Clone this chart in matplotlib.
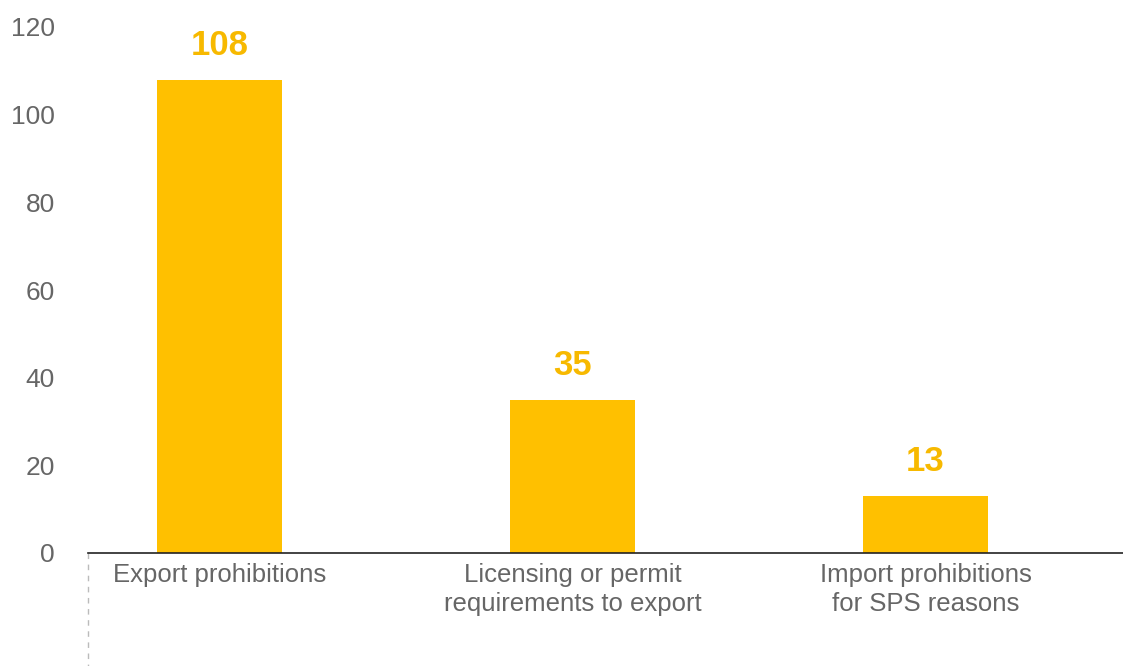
import matplotlib
matplotlib.use('Agg')
import matplotlib.pyplot as plt
from matplotlib import font_manager

categories = ['Export prohibitions',
              'Licensing or permit\nrequirements to export',
              'Import prohibitions\nfor SPS reasons']
counts = [108, 35, 13]
yticks = [0, 20, 40, 60, 80, 100, 120]

BAR = '#FFC000'
LABEL = '#F7B900'
GREY = '#666666'

names = {f.name for f in font_manager.fontManager.ttflist}
family = 'Liberation Sans Narrow' if 'Liberation Sans Narrow' in names else 'Liberation Sans'
plt.rcParams['font.family'] = [family, 'DejaVu Sans']

fig = plt.figure(figsize=(11.23, 6.66), dpi=100)
ax = fig.add_axes([88 / 1123, 113 / 666, 1 - 88 / 1123, 526 / 666])

x = list(range(len(categories)))
bars = ax.bar(x, counts, width=0.354, color=BAR, zorder=2)
for rect, v in zip(bars, counts):
    ax.annotate(str(v), (rect.get_x() + rect.get_width() / 2, v),
                xytext=(0, 13), textcoords='offset points',
                ha='center', va='bottom', fontsize=25, fontweight='bold',
                color=LABEL)

ax.set_xlim(-0.374, 2.56)
ax.set_ylim(0, 120)
ax.set_yticks(yticks)
ax.set_xticks(x)
ax.set_xticklabels(categories, fontsize=18.5, color=GREY, linespacing=1.3)
ax.tick_params(axis='y', length=0, pad=24, labelsize=19, labelcolor=GREY)
ax.tick_params(axis='x', length=0, pad=7)

for side in ('left', 'right', 'top'):
    ax.spines[side].set_visible(False)
ax.spines['bottom'].set_color('#222222')
ax.spines['bottom'].set_linewidth(1.2)

# dashed stub under the baseline at the left edge
ax.plot([0, 0], [0, -0.22], transform=ax.transAxes, clip_on=False,
        ls=(0, (4, 4)), color='#bbbbbb', lw=1)

fig.savefig('out.png', dpi=100)
